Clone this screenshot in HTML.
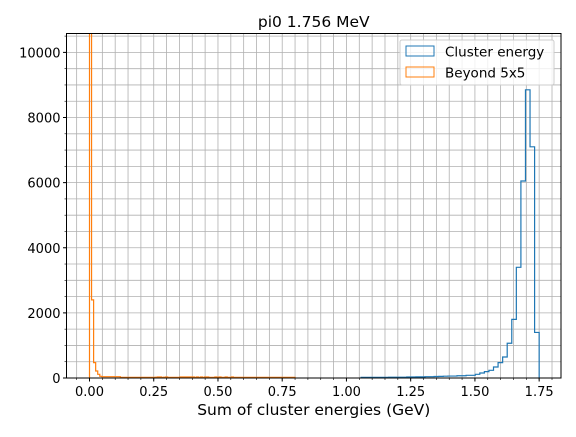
<!DOCTYPE html>
<html><head><meta charset="utf-8"><style>
body{margin:0;background:#fff}
svg text{font-family:"DejaVu Sans","Liberation Sans",sans-serif}
</style></head><body>
<svg id="c" width="576" height="432" xmlns="http://www.w3.org/2000/svg"></svg>
<script>
const blueStart=1.057, blueWidth=0.01777;
const blueCounts=[20,20,20,20,20,20,25,25,25,25,30,30,35,35,40,40,45,50,55,60,60,70,70,82,82,113,154,195,236,338,472,646,1067,1800,3400,6050,8850,7100,1400];
const orangeStart=0, orangeWidth=0.008;
const orangeCounts=[10700,2400,472,215,113,52,40,40,40,40,40,40,40,40,40,20,20,20,20,20,20,20,20,20,20,20,20,20,20,20,20,20,25,30,30,20,25,30,20,20,20,20,20,20,30,30,30,30,30,30,30,20,30,20,30,20,30,30,20,20,20,30,20,30,20,20,30,20,20,30,20,20,20,20,20,20,20,20,20,20,20,20,20,20,20,20,20,20,20,20,20,20,20,20,20,20,20,20,20,20];
const xTicks=[0,0.25,0.5,0.75,1.0,1.25,1.5,1.75];
const xTickLabels=["0.00","0.25","0.50","0.75","1.00","1.25","1.50","1.75"];
const yTicks=[0,2000,4000,6000,8000,10000];
const yTickLabels=["0","2000","4000","6000","8000","10000"];

const L=66.5,R=561,T=33.5,B=378;
const xmin=-0.0895,xmax=1.835,ymin=0,ymax=10580;
const X=v=>L+(v-xmin)/(xmax-xmin)*(R-L);
const Y=v=>B-(v-ymin)/(ymax-ymin)*(B-T);
const svg=document.getElementById('c');
const NS='http://www.w3.org/2000/svg';
function mk(t,a,p){const e=document.createElementNS(NS,t);for(const k in a)e.setAttribute(k,a[k]);(p||svg).appendChild(e);return e;}

const defs=mk('defs',{});const cp=mk('clipPath',{id:'clip'},defs);mk('rect',{x:L,y:T,width:R-L,height:B-T},cp);

const grid=mk('g',{});


for(let v=-0.05;v<=xmax;v+=0.05){const x=X(v);mk('line',{x1:x,x2:x,y1:T,y2:B,stroke:'#b0b0b0','stroke-width':0.8},grid);}
for(let v=500;v<=ymax;v+=500){const y=Y(v);mk('line',{x1:L,x2:R,y1:y,y2:y,stroke:'#b0b0b0','stroke-width':0.8},grid);}

function stepPath(start,w,counts){
  let d=`M${X(start)},${Y(0)}`;
  counts.forEach((c,i)=>{d+=` L${X(start+i*w)},${Y(c)} L${X(start+(i+1)*w)},${Y(c)}`;});
  d+=` L${X(start+counts.length*w)},${Y(0)}`;return d;
}
const pb=mk('path',{d:stepPath(blueStart,blueWidth,blueCounts),fill:'none',stroke:'#1f77b4','stroke-width':1.2,'clip-path':'url(#clip)'});


const po=mk('path',{d:stepPath(orangeStart,orangeWidth,orangeCounts),fill:'none',stroke:'#ff7f0e','stroke-width':1.2,'clip-path':'url(#clip)'});



const fr=mk('rect',{x:L,y:T,width:R-L,height:B-T,fill:'none',stroke:'#000','stroke-width':1});



xTicks.forEach((v,i)=>{const x=X(v);mk('line',{x1:x,x2:x,y1:B,y2:B+3.5,stroke:'#000'});
 const t=mk('text',{x:x,y:B+18,'font-size':13,'text-anchor':'middle'});t.textContent=xTickLabels[i];
 
 });
for(let v=-0.05;v<=xmax;v+=0.05){mk('line',{x1:X(v),x2:X(v),y1:B,y2:B+2,stroke:'#000','stroke-width':0.6});}
yTicks.forEach((v,i)=>{const y=Y(v);mk('line',{x1:L,x2:L-3.5,y1:y,y2:y,stroke:'#000'});
 const t=mk('text',{x:L-6,y:y+5,'font-size':13,'text-anchor':'end'});t.textContent=yTickLabels[i];
 
 });
for(let v=500;v<=ymax;v+=500){mk('line',{x1:L,x2:L-2,y1:Y(v),y2:Y(v),stroke:'#000','stroke-width':0.6});}

const ti=mk('text',{x:(L+R)/2,y:27,'font-size':15.5,'text-anchor':'middle'});ti.textContent='pi0 1.756 MeV';


const xl=mk('text',{x:(L+R)/2,y:415,'font-size':15.5,'text-anchor':'middle'});xl.textContent='Sum of cluster energies (GeV)';



const lg=mk('g',{});


mk('rect',{x:400,y:40,width:154,height:45,rx:2,fill:'#fff','fill-opacity':0.8,stroke:'#ccc'},lg);
mk('rect',{x:406,y:46,width:28,height:10,fill:'none',stroke:'#1f77b4'},lg);
mk('rect',{x:406,y:67,width:28,height:10,fill:'none',stroke:'#ff7f0e'},lg);
const l1=mk('text',{x:445,y:56.5,'font-size':13.5},lg);l1.textContent='Cluster energy';


const l2=mk('text',{x:445,y:77.5,'font-size':13.5},lg);l2.textContent='Beyond 5x5';


</script>
</body></html>
